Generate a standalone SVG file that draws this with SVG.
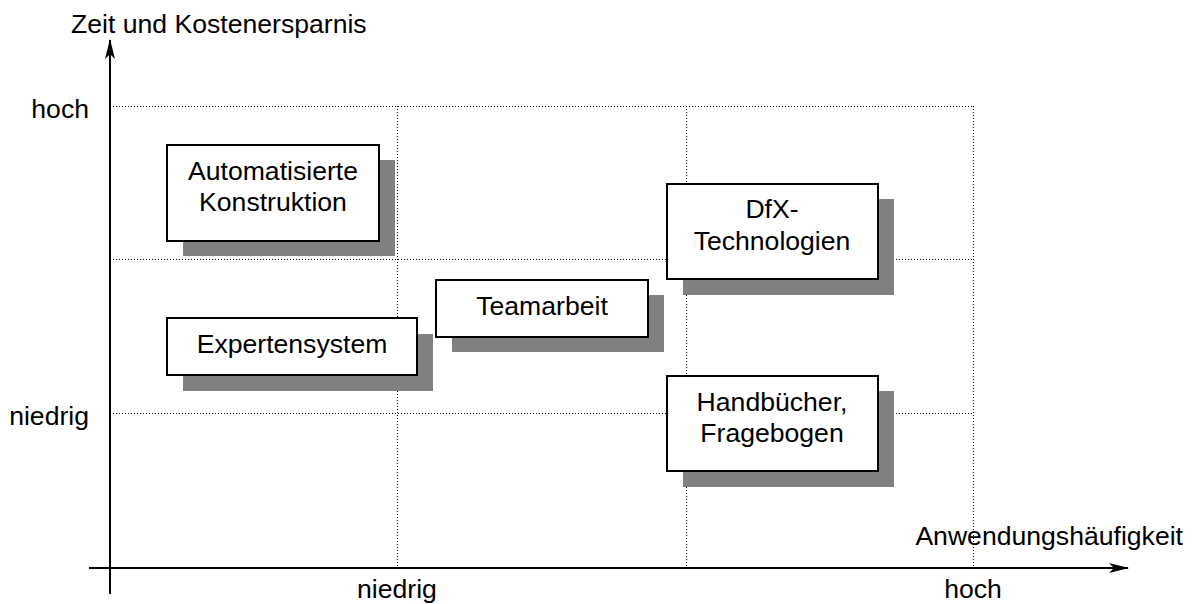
<svg xmlns="http://www.w3.org/2000/svg" width="1193" height="604" viewBox="0 0 1193 604">
<style>
text{font-family:"Liberation Sans",Arial,sans-serif;font-size:26.6px;fill:#000}
.grid{stroke:#000;stroke-width:1;stroke-dasharray:1 2;fill:none}
.axis{stroke:#000;stroke-width:2;fill:none}
.shadow{fill:#808080}
.box{fill:#fff;stroke:#000;stroke-width:2}
.c{text-anchor:middle}
</style>
<defs>
<marker id="arr" viewBox="0 0 20 10" refX="19" refY="5" markerWidth="20" markerHeight="10" markerUnits="userSpaceOnUse" orient="auto">
<path d="M0,0 L20,5 L0,10 L5,5 Z" fill="#000"/>
</marker>
</defs>
<rect width="1193" height="604" fill="#fff"/>
<g id="grid">
<path class="grid" d="M110,106.5H973 M110,259.5H973 M110,413.5H973 M397.5,106V568 M686.5,106V568 M973.5,106V568"/>
</g>
<g id="connectors">
<line class="axis" x1="110" y1="594" x2="110" y2="40" marker-end="url(#arr)"/>
<line class="axis" x1="89" y1="568" x2="1128" y2="568" marker-end="url(#arr)"/>
</g>
<g id="labels">
<text x="71" y="33">Zeit und Kostenersparnis</text>
<text x="89" y="118" text-anchor="end">hoch</text>
<text x="89" y="425" text-anchor="end">niedrig</text>
<text x="1183" y="545" text-anchor="end">Anwendungshäufigkeit</text>
<text x="397" y="598" class="c">niedrig</text>
<text x="973" y="598" class="c">hoch</text>
</g>
<g id="node-automatisierte">
<rect class="shadow" x="183" y="160" width="212" height="96"/>
<rect class="box" x="167" y="145" width="212" height="96"/>
<text x="273" y="180" class="c">Automatisierte</text>
<text x="273" y="211" class="c">Konstruktion</text>
</g>
<g id="node-expertensystem">
<rect class="shadow" x="183" y="334" width="250" height="57"/>
<rect class="box" x="167" y="318" width="250" height="57"/>
<text x="292" y="353" class="c">Expertensystem</text>
</g>
<g id="node-teamarbeit">
<rect class="shadow" x="452" y="295" width="212" height="57"/>
<rect class="box" x="436" y="280" width="212" height="57"/>
<text x="542" y="315" class="c">Teamarbeit</text>
</g>
<g id="node-dfx">
<rect class="shadow" x="683" y="199" width="211" height="96"/>
<rect class="box" x="667" y="184" width="211" height="95"/>
<text x="772" y="218" class="c">DfX-</text>
<text x="772" y="250" class="c">Technologien</text>
</g>
<g id="node-handbuecher">
<rect class="shadow" x="683" y="391" width="211" height="96"/>
<rect class="box" x="667" y="376" width="211" height="95"/>
<text x="772" y="411" class="c">Handbücher,</text>
<text x="772" y="442" class="c">Fragebogen</text>
</g>
</svg>
